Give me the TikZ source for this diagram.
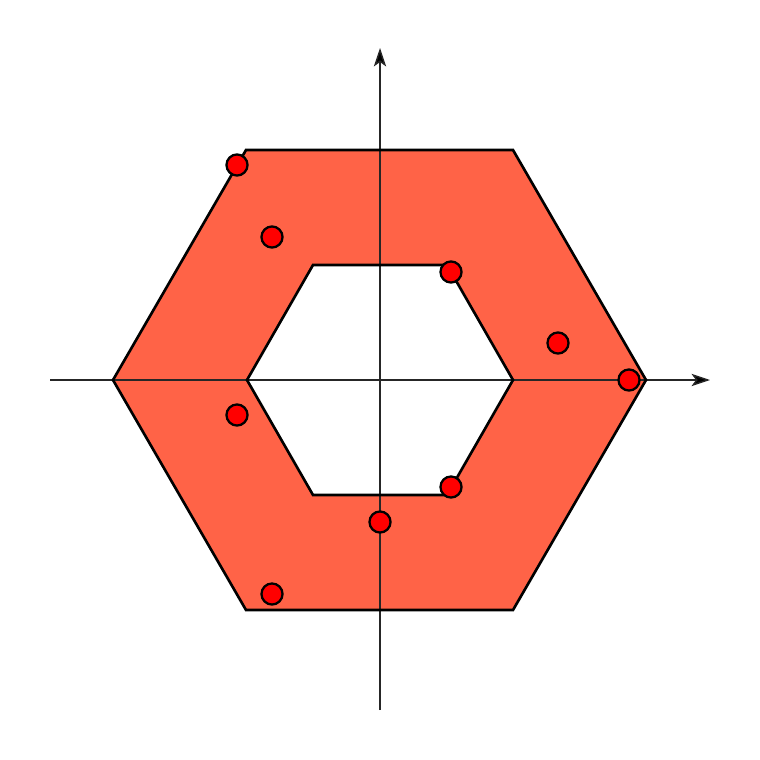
\documentclass[tikz,border=0pt]{standalone}
\usetikzlibrary{arrows.meta}
\definecolor{tomatofill}{RGB}{255,99,71}
\begin{document}
\begin{tikzpicture}[x=0.02cm,y=-0.02cm,
  axis/.style={line width=0.8pt,draw=black!85,-{Stealth[length=10.5pt,width=7pt,inset=2.5pt,fill=black]}},
  pt/.style={circle,draw=black,line width=1.3pt,fill=red,minimum size=12pt,inner sep=0pt}]
\useasboundingbox (0,0) rectangle (760,760);
\fill[tomatofill,even odd rule] (113,380) -- (246,150) -- (513,150) -- (646,380) -- (513,610) -- (246,610) -- cycle
  (247,380) -- (313,265) -- (447,265) -- (513,380) -- (447,495) -- (313,495) -- cycle;
\coordinate (xs) at (50,380); \coordinate (xe) at (710,380);
\coordinate (ys) at (380,710); \coordinate (ye) at (380,48);
\draw[axis] (xs) -- (xe);
\draw[axis] (ys) -- (ye);
\draw[line width=1.5pt,line join=miter] (113,380) -- (246,150) -- (513,150) -- (646,380) -- (513,610) -- (246,610) -- cycle
  (247,380) -- (313,265) -- (447,265) -- (513,380) -- (447,495) -- (313,495) -- cycle;
\node[pt] (p1) at (237,165) {};
\node[pt] (p2) at (272,237) {};
\node[pt] (p3) at (451,272) {};
\node[pt] (p4) at (558,343) {};
\node[pt] (p5) at (629,380) {};
\node[pt] (p6) at (237,415) {};
\node[pt] (p7) at (380,522) {};
\node[pt] (p8) at (451,487) {};
\node[pt] (p9) at (272,594) {};
\end{tikzpicture}
\end{document}
